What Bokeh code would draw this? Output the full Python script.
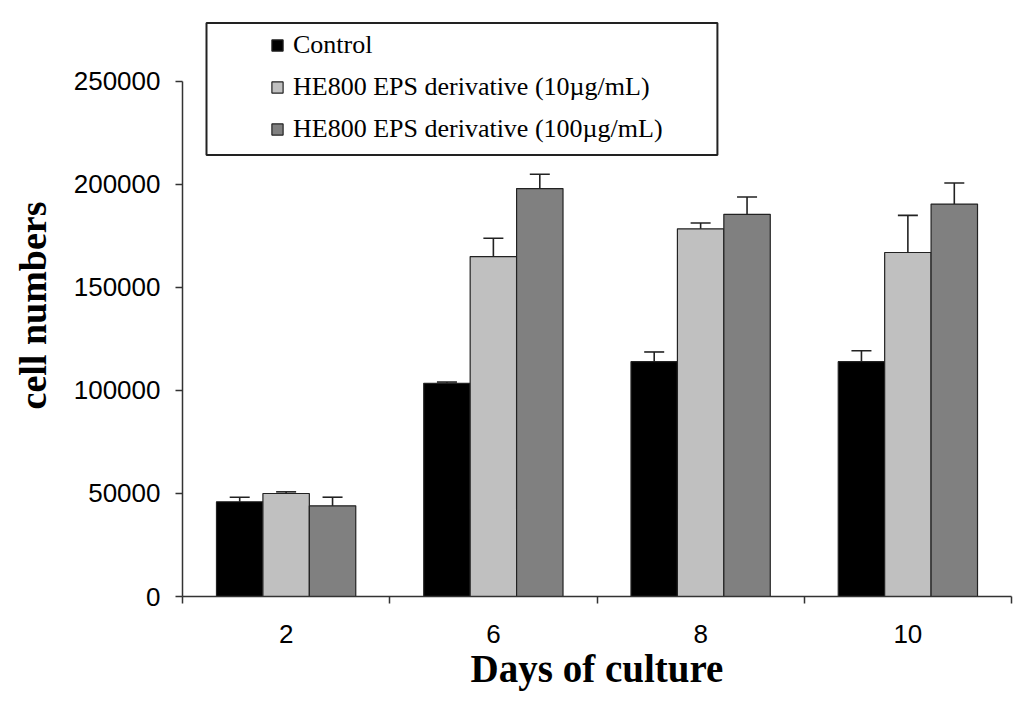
from bokeh.plotting import figure
from bokeh.models import (ColumnDataSource, Range1d, FixedTicker, NumeralTickFormatter,
                          Whisker, TeeHead, Legend, LegendItem, BoxAnnotation)
from bokeh.embed import file_html
from bokeh.resources import INLINE

days = ["2", "6", "8", "10"]
series_names = ["Control", "HE800 EPS derivative (10µg/mL)", "HE800 EPS derivative (100µg/mL)"]
control = [46000, 103500, 114000, 114000]
control_err = [2200, 600, 4700, 5300]
eps10 = [50000, 165000, 178500, 167000]
eps10_err = [800, 8900, 2800, 18000]
eps100 = [44000, 198000, 185500, 190500]
eps100_err = [4200, 7000, 8400, 10200]
colors = ["#000000", "#c0c0c0", "#808080"]
y_ticks = [0, 50000, 100000, 150000, 200000, 250000]

W, H = 1016, 693
p = figure(width=W, height=H, output_backend="svg", toolbar_location=None,
           x_range=Range1d(0, len(days)), y_range=Range1d(0, 282524),
           min_border_left=182, min_border_right=5, min_border_top=14, min_border_bottom=97)
p.outline_line_color = None
p.xgrid.visible = False
p.ygrid.visible = False
p.background_fill_color = "white"

bar_w = 0.224
offsets = [-bar_w, 0.0, bar_w]
vals = [control, eps10, eps100]
errs = [control_err, eps10_err, eps100_err]
renderers = []
for k in range(3):
    xs = [i + 0.5 + offsets[k] for i in range(len(days))]
    src = ColumnDataSource(dict(x=xs, top=vals[k],
                                upper=[v + e for v, e in zip(vals[k], errs[k])]))
    r = p.vbar(x="x", top="top", width=bar_w, bottom=0, source=src,
               fill_color=colors[k], line_color="#222222", line_width=1.2)
    renderers.append(r)
    w = Whisker(source=src, base="x", lower="top", upper="upper", dimension="height",
                line_color="#222222", line_width=1.6, level="annotation",
                upper_head=TeeHead(size=20, line_color="#222222", line_width=1.6),
                lower_head=None)
    p.add_layout(w)

# x axis: ticks at category boundaries, labels at centers
xa = p.xaxis[0]
xa.ticker = FixedTicker(ticks=[i + 0.5 for i in range(len(days))],
                        minor_ticks=list(range(len(days) + 1)))
xa.major_label_overrides = {i + 0.5: d for i, d in enumerate(days)}
xa.major_tick_out = 0
xa.major_tick_in = 0
xa.minor_tick_out = 7
xa.minor_tick_in = 0
xa.minor_tick_line_color = "#333333"
xa.minor_tick_line_width = 1.5
xa.axis_line_color = "#333333"
xa.axis_line_width = 1.5
xa.major_label_text_font = "Liberation Sans"
xa.major_label_text_font_size = "26px"
xa.major_label_text_color = "black"
xa.major_label_standoff = 21
xa.axis_label = "Days of culture"
xa.axis_label_text_font = "Liberation Serif"
xa.axis_label_text_font_style = "bold"
xa.axis_label_text_font_size = "39px"
xa.axis_label_text_color = "black"
xa.axis_label_standoff = 1

ya = p.yaxis[0]
ya.ticker = FixedTicker(ticks=y_ticks, minor_ticks=[])
ya.formatter = NumeralTickFormatter(format="0")
ya.bounds = (0, 250000)
ya.major_tick_out = 7
ya.major_tick_in = 0
ya.major_tick_line_color = "#333333"
ya.major_tick_line_width = 1.5
ya.minor_tick_out = 0
ya.minor_tick_in = 0
ya.axis_line_color = "#333333"
ya.axis_line_width = 1.5
ya.major_label_text_font = "Liberation Sans"
ya.major_label_text_font_size = "26px"
ya.major_label_text_color = "black"
ya.major_label_standoff = 15
ya.axis_label = "cell numbers"
ya.axis_label_text_font = "Liberation Serif"
ya.axis_label_text_font_style = "bold"
ya.axis_label_text_font_size = "38px"
ya.axis_label_text_color = "black"
ya.axis_label_standoff = 17

# legend frame
p.add_layout(BoxAnnotation(left=0.1158, right=2.581, bottom=214320, top=278398,
                           fill_color="white", fill_alpha=1.0,
                           line_color="#222222", line_alpha=1.0, line_width=2,
                           level="annotation"))

legend = Legend(items=[LegendItem(label=series_names[k], renderers=[renderers[k]]) for k in range(3)],
                location=(88, 452), orientation="vertical",
                glyph_width=14, glyph_height=14, label_standoff=9,
                label_height=26, spacing=12, padding=0, margin=0,
                border_line_alpha=0, background_fill_alpha=0,
                label_text_font="Liberation Serif", label_text_font_size="26px",
                label_text_color="black")
p.add_layout(legend)

open("out.html", "w").write(file_html(p, INLINE))
